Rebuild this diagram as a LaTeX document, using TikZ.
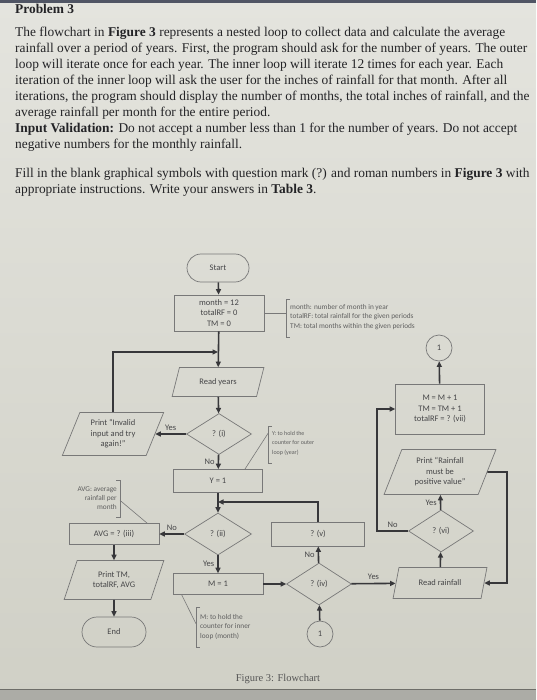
\documentclass[tikz,border=0pt]{standalone}
\usepackage{fontspec}
\setmainfont{Liberation Serif}
\newfontfamily\diafont{Carlito}
\usetikzlibrary{arrows.meta,shapes.geometric,shapes.misc,calc}
\definecolor{papertop}{RGB}{228,228,222}
\definecolor{paperbot}{RGB}{208,208,198}
\definecolor{topbar}{RGB}{80,85,100}
\definecolor{botband}{RGB}{172,172,166}
\definecolor{botline}{RGB}{110,110,105}
\definecolor{lnc}{RGB}{55,55,58}
\definecolor{shc}{RGB}{120,120,120}
\definecolor{txc}{RGB}{70,70,72}
\definecolor{ntc}{RGB}{95,95,95}
\definecolor{hdc}{RGB}{35,35,38}
\definecolor{capc}{RGB}{85,85,85}
\newcommand{\dgmtext}{\diafont\fontsize{8.5}{10.5}\selectfont}
\newcommand{\notetext}{\diafont\fontsize{7.3}{9.3}\selectfont}
\newcommand{\smallnotetext}{\diafont\fontsize{6}{9.5}\selectfont}
\newcommand{\hdtext}{\fontsize{13.4}{16}\selectfont}
\begin{document}
\begin{tikzpicture}[x=1pt,y=-1pt,
  arr/.style={draw=lnc, line width=1.6pt, -{Triangle[length=5.5pt,width=5pt]}},
  box/.style={draw=shc, line width=0.7pt, rectangle, inner sep=1pt, align=center, font=\dgmtext, text=txc},
  term/.style={box, rounded rectangle},
  io/.style={box, trapezium, trapezium left angle=68, trapezium right angle=112, trapezium stretches=true},
  dec/.style={box, diamond, inner sep=0pt},
  conn/.style={box, circle, inner sep=0pt, minimum size=26pt},
  lbl/.style={font=\dgmtext, text=txc, inner sep=0pt},
  note/.style={font=\notetext, text=ntc, inner sep=0pt},
  brk/.style={draw=shc, line width=0.6pt},
  hd/.style={anchor=base west, inner sep=0pt, font=\hdtext, text=hdc},
]
\useasboundingbox (0,0) rectangle (536,700);
\clip (0,0) rectangle (536,700);
\shade[top color=papertop, bottom color=paperbot] (0,0) rectangle (536,700);
\fill[topbar] (0,0) rectangle (536,3);
\fill[botband] (0,689) rectangle (536,700);
\draw[botline, line width=1pt] (0,689) -- (536,689);

% header text
\node[hd] (h0) at (15,14) {\textbf{Problem 3}};
\node[hd] (h1) at (15,37) {\hbox to 490pt{The flowchart in \textbf{Figure 3} represents a nested loop to collect data and calculate the average}};
\node[hd] (h2) at (15,53) {rainfall over a period of years. First, the program should ask for the number of years. The outer};
\node[hd] (h3) at (15,69) {\hbox to 488pt{loop will iterate once for each year. The inner loop will iterate 12 times for each year. Each}};
\node[hd] (h4) at (15,85) {\hbox to 492pt{iteration of the inner loop will ask the user for the inches of rainfall for that month. After all}};
\node[hd] (h5) at (15,101) {iterations, the program should display the number of months, the total inches of rainfall, and the};
\node[hd] (h6) at (15,117) {average rainfall per month for the entire period.};
\node[hd] (h7) at (15,133) {\hbox to 502pt{\textbf{Input Validation:} Do not accept a number less than 1 for the number of years. Do not accept}};
\node[hd] (h8) at (15,149) {negative numbers for the monthly rainfall.};
\node[hd] (h9) at (15,178) {Fill in the blank graphical symbols with question mark (?) and roman numbers in \textbf{Figure 3} with};
\node[hd] (h10) at (15,194) {appropriate instructions. Write your answers in \textbf{Table 3}.};

% flowchart nodes
\node[term, minimum width=64pt, minimum height=28pt] (start) at (218,268) {Start};
\node[box, minimum width=90pt, minimum height=36pt] (init) at (219,313) {month = 12\\ totalRF = 0\\ TM = 0};
\node[io, minimum width=92pt, minimum height=29pt] (ready) at (218,382) {Read years};
\node[dec, minimum width=65pt, minimum height=41pt] (d1) at (219,434) {? (i)};
\node[io, minimum width=102pt, minimum height=43pt] (inval) at (113,434) {Print “Invalid\\ input and try\\ again!”};
\node[box, minimum width=89pt, minimum height=23pt] (y1) at (218,481) {Y = 1};
\node[dec, minimum width=67pt, minimum height=42pt] (d2) at (218,534) {? (ii)};
\node[box, minimum width=90pt, minimum height=21pt] (avg) at (114,534) {AVG = ? (iii)};
\node[io, minimum width=100pt, minimum height=39pt] (ptm) at (114,580) {Print TM,\\ totalRF, AVG};
\node[term, minimum width=66pt, minimum height=30pt] (end) at (114,632) {End};
\node[box, minimum width=90pt, minimum height=21pt] (m1) at (218,584) {M = 1};
\node[dec, minimum width=65pt, minimum height=42pt] (d4) at (319,584) {? (iv)};
\node[box, minimum width=93pt, minimum height=24pt] (v) at (318,534) {? (v)};
\node[conn] (c1b) at (320,634) {1};
\node[io, minimum width=94pt, minimum height=31pt] (rrf) at (440,583) {Read rainfall};
\node[dec, minimum width=65pt, minimum height=42pt] (d6) at (441,531) {? (vi)};
\node[io, minimum width=112pt, minimum height=45pt] (prf) at (440,472) {Print “Rainfall\\ must be\\ positive value”};
\node[box, minimum width=89pt, minimum height=50pt] (mm) at (440,409) {M = M + 1\\ TM = TM + 1\\ totalRF = ? (vii)};
\node[conn] (c1a) at (439,348) {1};

% annotations
\coordinate (b1t) at (286,299);
\coordinate (b1b) at (286,337);
\draw[brk] ($(b1t)+(4,0)$) -- (b1t) -- (b1b) -- ($(b1b)+(4,0)$);
\draw[brk] (init.east) -- (init.east -| b1t);
\node[note, anchor=west, align=left] (n1) at (290,317) {month: number of month in year\\ totalRF: total rainfall for the given periods\\ TM: total months within the given periods};

\coordinate (b2t) at (268,426);
\coordinate (b2b) at (268,463);
\draw[brk] ($(b2t)+(4,0)$) -- (b2t) -- (b2b) -- ($(b2b)+(4,0)$);
\draw[brk] ($(b2t)!0.2!(b2b)$) -- ($(y1.north east)!0.4!(y1.north)$);
\node[note, font=\smallnotetext, anchor=west, align=left] (n2) at (272,443) {Y: to hold the\\ counter for outer\\ loop (year)};

\coordinate (b3t) at (120,480);
\coordinate (b3b) at (120,517);
\draw[brk] ($(b3t)+(-4,0)$) -- (b3t) -- (b3b) -- ($(b3b)+(-4,0)$);
\draw[brk] ($(b3t)!0.55!(b3b)$) -- ($(avg.north east)!0.27!(avg.north)$);
\node[note, anchor=east, align=right] (n3) at (117,498) {AVG: average\\ rainfall per\\ month};

\coordinate (b4t) at (196,607);
\coordinate (b4b) at (196,647);
\draw[brk] ($(b4t)+(4,0)$) -- (b4t) -- (b4b) -- ($(b4b)+(4,0)$);
\draw[brk] ($(m1.south west)!0.2!(m1.south)$) -- ($(b4t)!0.42!(b4b)$);
\node[note, anchor=west, align=left] (n4) at (200,627) {M: to hold the\\ counter for inner\\ loop (month)};

% connectors
\coordinate (j1) at (218,352);
\coordinate (j2) at (218,502);
\coordinate (r1) at (507,472);
\coordinate (l1) at (377,531);
\draw[arr] (start) -- (init);
\draw[arr] (init) -- (ready);
\draw[arr] (inval.north) |- (j1);
\draw[arr] (ready) -- (d1);
\draw[arr] (d1) -- node[lbl, above=3pt] {Yes} (inval);
\draw[arr] (d1) -- node[lbl, left=3pt] {No} (y1);
\draw[arr] (y1) -- (d2);
\draw[arr] (v.north) |- (j2);
\draw[arr] (d2) -- node[lbl, above=3pt] {No} (avg);
\draw[arr] (avg) -- (ptm);
\draw[arr] (ptm) -- (end);
\draw[arr] (d2) -- node[lbl, left=3pt] {Yes} (m1);
\draw[arr] (m1) -- (d4);
\draw[arr] (c1b) -- (d4);
\draw[arr] (d4) -- node[lbl, left=3pt] {No} (v);
\draw[arr] (d4) -- node[lbl, above=3pt] {Yes} (rrf);
\draw[arr] (rrf) -- (d6);
\draw[arr] (d6) -- node[lbl, left=3pt] {Yes} (prf);
\draw[arr] (prf.east) -- (r1) |- (rrf.east);
\draw[arr] (d6.west) -- node[lbl, above=3pt] {No} (l1) |- (mm.west);
\draw[arr] (mm) -- (c1a);

% caption
\node[inner sep=0pt, font=\fontsize{10.5}{12}\selectfont, text=capc] (cap) at (278,679) {Figure 3: Flowchart};
\end{tikzpicture}
\end{document}
